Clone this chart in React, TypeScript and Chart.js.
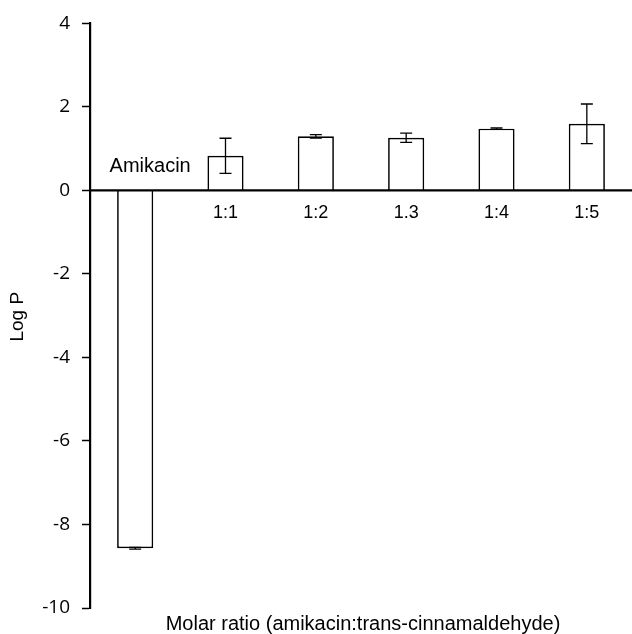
import React, { useEffect, useRef } from "react";
import { Chart, registerables } from "chart.js";

Chart.register(...registerables);

const categories = ["Amikacin", "1:1", "1:2", "1.3", "1:4", "1:5"];
const logP = [-8.57, 0.83, 1.295, 1.26, 1.48, 1.595];
const errors = [0.02, 0.42, 0.04, 0.11, 0.02, 0.475];
const yTicks = [-10, -8, -6, -4, -2, 0, 2, 4];
const xTitle = "Molar ratio (amikacin:trans-cinnamaldehyde)";
const yTitle = "Log P";

const overlayPlugin = {
  id: "overlay",
  afterDatasetsDraw(chart: any) {
    const { ctx, chartArea } = chart;
    const y = chart.scales.y;
    const meta = chart.getDatasetMeta(0);
    const zeroY = y.getPixelForValue(0);
    ctx.save();
    // zero line
    ctx.strokeStyle = "#000";
    ctx.lineWidth = 2.2;
    ctx.beginPath();
    ctx.moveTo(chartArea.left, zeroY);
    ctx.lineTo(chartArea.right, zeroY);
    ctx.stroke();
    // error bars
    ctx.lineWidth = 1.3;
    meta.data.forEach((bar: any, i: number) => {
      const v = logP[i];
      const e = errors[i];
      const x = bar.x;
      const t = y.getPixelForValue(v + e);
      const b = y.getPixelForValue(v - e);
      ctx.beginPath();
      ctx.moveTo(x, t);
      ctx.lineTo(x, b);
      ctx.moveTo(x - 6, t);
      ctx.lineTo(x + 6, t);
      ctx.moveTo(x - 6, b);
      ctx.lineTo(x + 6, b);
      ctx.stroke();
    });
    // category labels
    ctx.fillStyle = "#000";
    ctx.textAlign = "center";
    ctx.textBaseline = "alphabetic";
    meta.data.forEach((bar: any, i: number) => {
      if (logP[i] < 0) {
        ctx.font = "20px 'Liberation Sans', Arial, sans-serif";
        ctx.fillText(categories[i], bar.x + 15, zeroY - 18);
      } else {
        ctx.font = "18px 'Liberation Sans', Arial, sans-serif";
        ctx.fillText(categories[i], bar.x, zeroY + 28);
      }
    });
    // x title
    ctx.font = "20px 'Liberation Sans', Arial, sans-serif";
    ctx.fillText(xTitle, (chartArea.left + chartArea.right) / 2 + 2, 630);
    // y title
    ctx.save();
    ctx.translate(23, (chartArea.top + chartArea.bottom) / 2 + 1);
    ctx.rotate(-Math.PI / 2);
    ctx.font = "19px 'Liberation Sans', Arial, sans-serif";
    ctx.textAlign = "center";
    ctx.textBaseline = "alphabetic";
    ctx.fillText(yTitle, 0, 0);
    ctx.restore();
    ctx.restore();
  },
};

export default function App() {
  const ref = useRef<HTMLCanvasElement>(null);
  useEffect(() => {
    if (!ref.current) return;
    const chart = new Chart(ref.current, {
      type: "bar",
      data: {
        labels: categories,
        datasets: [
          {
            data: logP,
            backgroundColor: "#fff",
            borderColor: "#000",
            borderWidth: 1.7,
            barPercentage: 0.4,
            categoryPercentage: 1.0,
          },
        ],
      },
      options: {
        animation: false,
        responsive: false,
        devicePixelRatio: 1,
        layout: { padding: { top: 21, bottom: 26, left: 0, right: 0 } },
        plugins: { legend: { display: false }, tooltip: { enabled: false } },
        scales: {
          x: { display: false },
          y: {
            min: -10,
            max: 4,
            afterFit: (s: any) => {
              s.width = 90;
            },
            afterBuildTicks: (s: any) => {
              s.ticks = yTicks.map((v) => ({ value: v }));
            },
            ticks: {
              color: "#000",
              padding: 12,
              font: { family: "Open Sans", size: 19 },
            },
            grid: {
              drawOnChartArea: false,
              drawTicks: true,
              tickLength: 8,
              tickColor: "#000",
              tickWidth: 1.5,
            },
            border: { display: true, color: "#000", width: 2.2 },
          },
        },
      },
      plugins: [overlayPlugin],
    });
    return () => chart.destroy();
  }, []);
  return (
    <div style={{ position: "absolute", left: 0, top: 0, width: 632, height: 634 }}>
      <canvas ref={ref} width={632} height={634} />
    </div>
  );
}
